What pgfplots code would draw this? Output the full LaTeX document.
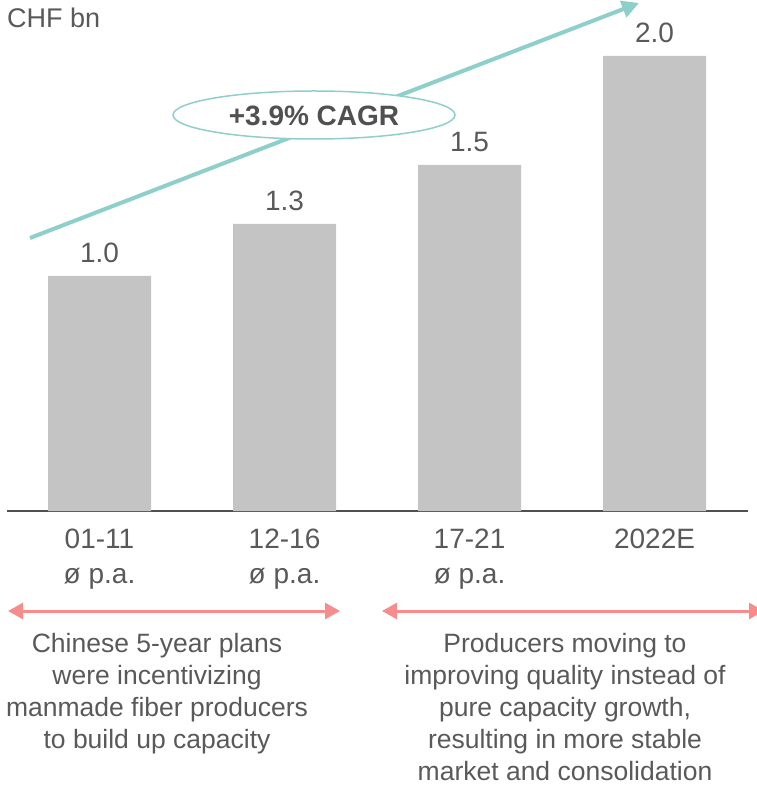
\documentclass[border=0pt]{standalone}
\usepackage{pgfplots}
\pgfplotsset{compat=1.18}
\usepackage{pgfplotstable}
\usepackage{fontspec}
\setmainfont{Liberation Sans}
\usetikzlibrary{arrows.meta}

\definecolor{barg}{HTML}{C4C4C4}
\definecolor{txtg}{HTML}{595959}
\definecolor{axg}{HTML}{505050}
\definecolor{teal1}{HTML}{8ECFCB}
\definecolor{pink1}{HTML}{F78C8C}

% bar heights, labels as printed
\pgfplotstableread{
x y lab
0 1.033 1.0
1 1.262 1.3
2 1.521 1.5
3 2.000 2.0
}\sales

\begin{document}
\begin{tikzpicture}
\begin{axis}[
    at={(0,0)}, anchor=south west,
    scale only axis, width=741pt, height=511pt,
    xmin=-0.5, xmax=3.505, ymin=0, ymax=2.246,
    enlargelimits=false, clip=false,
    axis x line*=bottom, axis y line=none,
    x axis line style={draw=axg, line width=2.5pt},
    xtick={0,1,2,3}, ytick=\empty,
    major tick length=0pt,
    xticklabels={{01-11\\ø p.a.},{12-16\\ø p.a.},{17-21\\ø p.a.},{2022E}},
    xticklabel style={align=center, inner sep=0pt, yshift=-18pt,
        font=\fontsize{28}{35}\selectfont, text=txtg},
    ybar, bar width=103pt,
    nodes near coords, point meta=explicit symbolic,
    nodes near coords style={anchor=south, inner sep=0pt, yshift=13pt,
        font=\fontsize{28}{34}\selectfont, text=txtg},
]
\addplot[fill=barg, draw=none] table[x=x, y=y, meta=lab] {\sales};
\end{axis}

\begin{scope}[x=1pt, y=-1pt, shift={(-7pt,511pt)}]
  \node[anchor=base west, inner sep=0pt, text=txtg,
        font=\fontsize{27}{32}\selectfont] at (7,28) {CHF bn};
  % growth arrow with ellipse
  \draw[teal1, line width=4pt, -{Triangle[length=17pt,width=17pt]}]
      (30,238) -- (639,3);
  \draw[teal1, line width=1.5pt, fill=white] (314,115) ellipse [x radius=141, y radius=24];
  \node[text=axg, font=\fontsize{28}{32}\selectfont\bfseries] at (314,116) {+3.9\% CAGR};
  % period arrows
  \draw[pink1, line width=3pt, {Triangle[length=15pt,width=16pt]}-{Triangle[length=15pt,width=16pt]}]
      (8,611) -- (340,611);
  \draw[pink1, line width=3pt, {Triangle[length=15pt,width=16pt]}-{Triangle[length=15pt,width=16pt]}]
      (382,611) -- (764,611);
  % explanations
  \node[anchor=north, inner sep=0pt, align=center, text=txtg,
        font=\fontsize{26.5}{32}\selectfont] at (157,633)
      {Chinese 5-year plans\\were incentivizing\\manmade fiber producers\\to build up capacity};
  \node[anchor=north, inner sep=0pt, align=center, text=txtg,
        font=\fontsize{26.5}{32}\selectfont] at (565,633)
      {Producers moving to\\improving quality instead of\\pure capacity growth,\\resulting in more stable\\market and consolidation};
  \pgfresetboundingbox
  \path[use as bounding box] (0,0) rectangle (757,787);
\end{scope}
\end{tikzpicture}
\end{document}
